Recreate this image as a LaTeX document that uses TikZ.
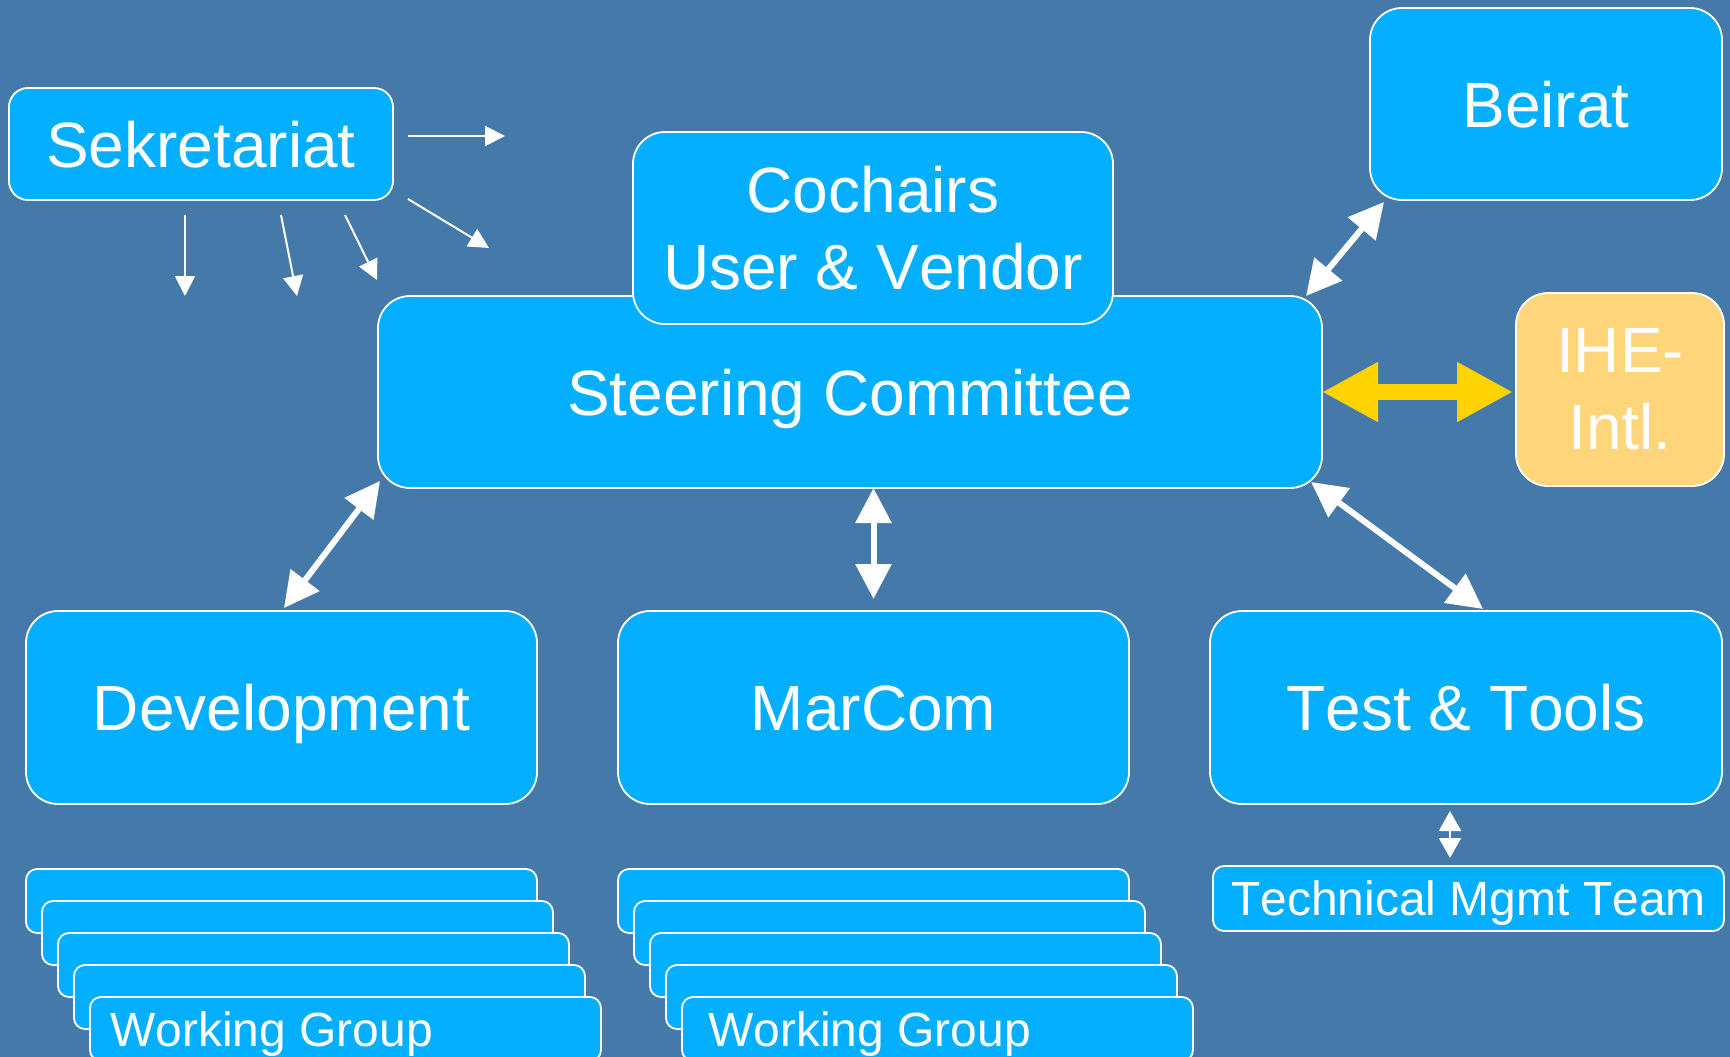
\documentclass[tikz,border=0pt]{standalone}
\usepackage{fontspec}
\setmainfont{Liberation Sans}[Kerning=Off]
\usetikzlibrary{arrows.meta,calc}
\definecolor{bgc}{HTML}{4479A9}
\definecolor{boxc}{HTML}{03AFFE}
\definecolor{ihec}{HTML}{FFD57B}
\definecolor{yarrow}{HTML}{FFD300}
\newcommand\myBigFont{\fontsize{64}{77}\selectfont}
\newcommand\mySmallFont{\fontsize{48}{58}\selectfont}
\begin{document}
\begin{tikzpicture}[x=1pt,y=-1pt,
  mbox/.style={draw=white, line width=1.8pt, fill=boxc, rounded corners=32pt,
    inner sep=0pt, outer sep=0pt, text=white, font=\myBigFont, align=center,
    minimum height=193pt},
  box/.style={mbox, text height=46pt, text depth=0pt},
  smallbox/.style={mbox, rounded corners=11pt, minimum height=64pt, minimum width=511pt,
    font=\mySmallFont, text height=34pt, text depth=0pt},
  wgtext/.style={anchor=base west, inner sep=0pt, text=white, font=\mySmallFont},
  thinarrow/.style={draw=white, line width=2pt, -{Triangle[length=20pt,width=20pt]}},
  bigarrow/.style={draw=white, line width=6pt, {Triangle[length=35pt,width=35pt]}-{Triangle[length=35pt,width=35pt]}},
  tinyarrow/.style={draw=white, line width=2pt, {Triangle[length=20pt,width=22pt]}-{Triangle[length=20pt,width=22pt]}},
  yellowarrow/.style={draw=yarrow, line width=16pt, {Triangle[length=56pt,width=56pt]}-{Triangle[length=56pt,width=56pt]}}
]
\useasboundingbox (0,0) rectangle (1730,1057);
\fill[bgc] (0,0) rectangle (1730,1057);
\clip (0,0) rectangle (1730,1057);

% main boxes
\node[box, rounded corners=19pt, minimum width=384pt, minimum height=112pt] (sek) at (201,144) {Sekretariat};
\node[box, minimum width=944pt, minimum height=192pt] (steer) at (850,392) {Steering Committee};
\node[mbox, minimum width=480pt, minimum height=192pt] (cochairs) at (873,228) {Cochairs\\User \& Vendor};
\node[box, minimum width=352pt, minimum height=192pt] (beirat) at (1546,104) {Beirat};
\node[mbox, fill=ihec, minimum width=208pt] (ihe) at (1620,389.5) {IHE-\\Intl.};
\node[box, minimum width=511pt] (dev) at (281.5,707.5) {Development};
\node[box, minimum width=511pt] (marcom) at (873.5,707.5) {MarCom};
\node[box, minimum width=512pt] (test) at (1466,707.5) {Test \& Tools};
\node[smallbox, minimum height=65pt] (tmt) at (1468.5,898.5) {Technical Mgmt Team};

% working group stacks
\foreach \i in {0,...,4}{
  \node[smallbox] (wgd\i) at ({281.5+16*\i},{901+32*\i}) {};
  \node[smallbox] (wgm\i) at ({873.5+16*\i},{901+32*\i}) {};
}
\node[wgtext] (wgdtext) at ($(wgd4.north west)+(20,49)$) {Working Group};
\node[wgtext] (wgmtext) at ($(wgm4.north west)+(26,49)$) {Working Group};

% Sekretariat arrows (free ends)
\coordinate (sa) at (505,136);
\coordinate (sb) at (489,248);
\coordinate (sc) at (185,296);
\coordinate (sd) at (297,296);
\coordinate (se) at (377,280);
\draw[thinarrow] ($(sek.east)+(15,-8)$) -- (sa);
\draw[thinarrow] ($(sek.south east)+(15,-1)$) -- (sb);
\draw[thinarrow] ($(sek.south)+(-16,15)$) -- (sc);
\draw[thinarrow] ($(sek.south)+(80,15)$) -- (sd);
\draw[thinarrow] ($(sek.south)+(144,15)$) -- (se);

% connectors
\draw[bigarrow] ($(steer.south west)+(2,-7)$) -- ($(dev.north)+(2.5,-3)$);
\draw[bigarrow] (marcom.north |- steer.south) -- ($(marcom.north)+(0,-12)$);
\draw[bigarrow] ($(beirat.south west)+(14,2)$) -- ($(steer.north east)+(-16,0)$);
\draw[bigarrow] ($(steer.south east)+(-11,-6)$) -- ($(test.north)+(17,-2)$);
\draw[yellowarrow] (steer.east) -- ($(ihe.west |- steer.east)+(-3,0)$);
\draw[tinyarrow] ($(test.south)+(-16,7)$) -- ($(tmt.north)+(-18.5,-8)$);
\end{tikzpicture}
\end{document}
